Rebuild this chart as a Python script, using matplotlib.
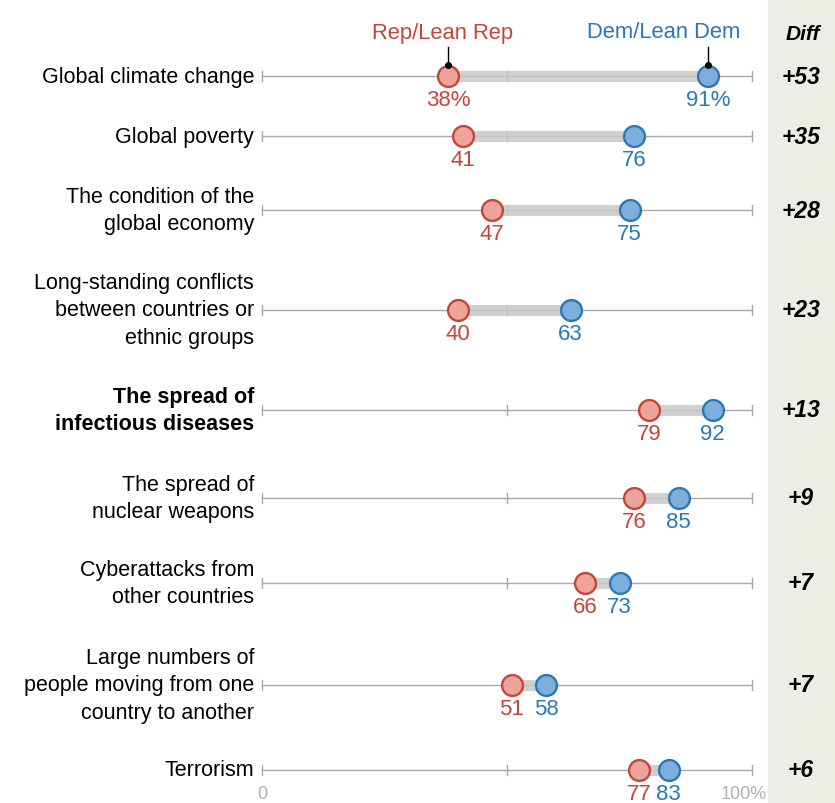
import matplotlib.pyplot as plt

plt.rcParams['font.family'] = ['Liberation Sans', 'DejaVu Sans']

# data
categories = [
    "Global climate change",
    "Global poverty",
    "The condition of the\nglobal economy",
    "Long-standing conflicts\nbetween countries or\nethnic groups",
    "The spread of\ninfectious diseases",
    "The spread of\nnuclear weapons",
    "Cyberattacks from\nother countries",
    "Large numbers of\npeople moving from one\ncountry to another",
    "Terrorism",
]
rep = [38, 41, 47, 40, 79, 76, 66, 51, 77]
dem = [91, 76, 75, 63, 92, 85, 73, 58, 83]
diff_labels = ["+53", "+35", "+28", "+23", "+13", "+9", "+7", "+7", "+6"]

# layout (row centres in pixels from top)
row_y = [77, 137, 211, 311, 411, 499, 584, 686, 771]

RED = "#C4463A"
RED_FILL = "#EFA49A"
BLUE = "#2A78B5"
BLUE_FILL = "#7EAEDD"
W, H = 835, 804

fig = plt.figure(figsize=(W / 100, H / 100), dpi=100)
ax = fig.add_axes([0, 0, 1, 1])
px = 100 / 490  # data units per pixel
ax.set_xlim(-262 * px, (W - 262) * px)
ax.set_ylim(H, 0)
ax.axis("off")

# diff column background
ax.axvspan((768 - 262) * px, (W - 262) * px, color="#EEEDE5", zorder=0)
ax.text((803 - 262) * px, 34, "Diff", ha="center", va="center",
        fontsize=15, fontweight="bold", fontstyle="italic")

for i, cat in enumerate(categories):
    y = row_y[i]
    ax.plot([0, 100], [y, y], color="#A8A8A8", lw=1, zorder=1)
    for t in (0, 50, 100):
        ax.plot([t, t], [y - 5, y + 5], color="#A8A8A8", lw=1, zorder=1)
    ax.plot([rep[i], dem[i]], [y, y], color="#C8C8C8", lw=8,
            solid_capstyle="butt", alpha=0.85, zorder=2)
    ax.plot(rep[i], y, "o", ms=15, mfc=RED_FILL, mec=RED, mew=1.7, zorder=3)
    ax.plot(dem[i], y, "o", ms=15, mfc=BLUE_FILL, mec=BLUE, mew=1.7, zorder=3)
    suffix = "%" if i == 0 else ""
    ax.text(rep[i], y + 24, f"{rep[i]}{suffix}", ha="center", va="center",
            fontsize=16, color=RED)
    ax.text(dem[i], y + 24, f"{dem[i]}{suffix}", ha="center", va="center",
            fontsize=16, color=BLUE)
    ax.text(-8 * px, y, cat, ha="right", va="center", fontsize=15.5,
            linespacing=1.38, fontweight="bold" if i == 4 else "normal")
    ax.text((801 - 262) * px, y, diff_labels[i], ha="center", va="center",
            fontsize=16.5, fontweight="bold", fontstyle="italic")

# series annotations
y0 = row_y[0]
for val, name, col, lx in ((rep[0], "Rep/Lean Rep", RED, 443),
                           (dem[0], "Dem/Lean Dem", BLUE, 664)):
    ax.plot([val, val], [48, y0 - 11], color="black", lw=1, zorder=4)
    ax.plot(val, y0 - 11, "o", ms=4, color="black", zorder=4)
    ax.text((lx - 262) * px, 33, name, ha="center", va="center",
            fontsize=15.8, color=col)

ax.text(0, 795, "0", ha="center", va="center", fontsize=13, color="#B0B0B0")
ax.text(100 - 8 * px, 795, "100%", ha="center", va="center", fontsize=13,
        color="#B0B0B0")

fig.savefig("out.png", dpi=100)
